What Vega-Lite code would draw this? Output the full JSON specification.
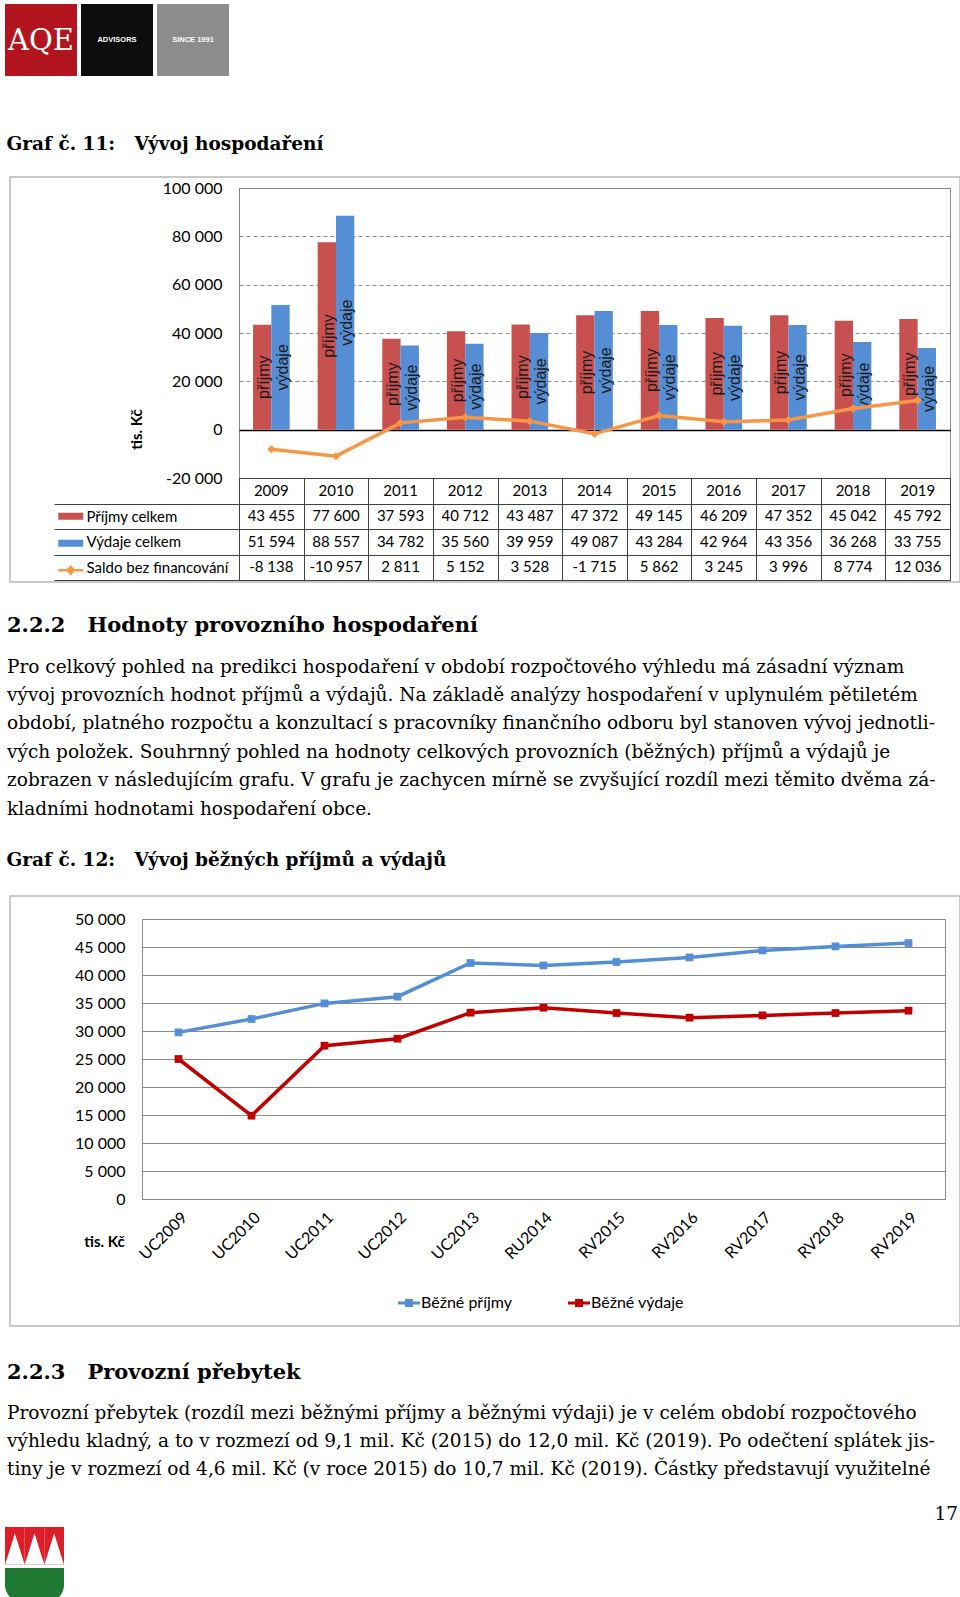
{
  "$schema": "https://vega.github.io/schema/vega-lite/v6.json",
  "background": "white",
  "padding": {"left": 4, "top": 4, "right": 0, "bottom": 0},
  "config": {
    "locale": {"number": {"decimal": ",", "thousands": " ", "grouping": [3], "currency": ["", " Kč"], "minus": "-"}},
    "font": "Lato",
    "view": {"stroke": null},
    "axis": {"labelColor": "#000", "titleColor": "#000", "labelFont": "Lato", "titleFont": "Lato"},
    "legend": {"labelColor": "#000", "labelFont": "Lato"},
    "title": {"color": "#000", "subtitleColor": "#000"}
  },
  "datasets": {
    "hosp": [
      {"year": "2009", "series": "Příjmy celkem", "value": 43455},
      {"year": "2009", "series": "Výdaje celkem", "value": 51594},
      {"year": "2009", "series": "Saldo bez financování", "value": -8138},
      {"year": "2010", "series": "Příjmy celkem", "value": 77600},
      {"year": "2010", "series": "Výdaje celkem", "value": 88557},
      {"year": "2010", "series": "Saldo bez financování", "value": -10957},
      {"year": "2011", "series": "Příjmy celkem", "value": 37593},
      {"year": "2011", "series": "Výdaje celkem", "value": 34782},
      {"year": "2011", "series": "Saldo bez financování", "value": 2811},
      {"year": "2012", "series": "Příjmy celkem", "value": 40712},
      {"year": "2012", "series": "Výdaje celkem", "value": 35560},
      {"year": "2012", "series": "Saldo bez financování", "value": 5152},
      {"year": "2013", "series": "Příjmy celkem", "value": 43487},
      {"year": "2013", "series": "Výdaje celkem", "value": 39959},
      {"year": "2013", "series": "Saldo bez financování", "value": 3528},
      {"year": "2014", "series": "Příjmy celkem", "value": 47372},
      {"year": "2014", "series": "Výdaje celkem", "value": 49087},
      {"year": "2014", "series": "Saldo bez financování", "value": -1715},
      {"year": "2015", "series": "Příjmy celkem", "value": 49145},
      {"year": "2015", "series": "Výdaje celkem", "value": 43284},
      {"year": "2015", "series": "Saldo bez financování", "value": 5862},
      {"year": "2016", "series": "Příjmy celkem", "value": 46209},
      {"year": "2016", "series": "Výdaje celkem", "value": 42964},
      {"year": "2016", "series": "Saldo bez financování", "value": 3245},
      {"year": "2017", "series": "Příjmy celkem", "value": 47352},
      {"year": "2017", "series": "Výdaje celkem", "value": 43356},
      {"year": "2017", "series": "Saldo bez financování", "value": 3996},
      {"year": "2018", "series": "Příjmy celkem", "value": 45042},
      {"year": "2018", "series": "Výdaje celkem", "value": 36268},
      {"year": "2018", "series": "Saldo bez financování", "value": 8774},
      {"year": "2019", "series": "Příjmy celkem", "value": 45792},
      {"year": "2019", "series": "Výdaje celkem", "value": 33755},
      {"year": "2019", "series": "Saldo bez financování", "value": 12036}
    ],
    "bezne": [
      {"obdobi": "UC2009", "rada": "Běžné příjmy", "hodnota": 29750},
      {"obdobi": "UC2010", "rada": "Běžné příjmy", "hodnota": 32140},
      {"obdobi": "UC2011", "rada": "Běžné příjmy", "hodnota": 34930},
      {"obdobi": "UC2012", "rada": "Běžné příjmy", "hodnota": 36130},
      {"obdobi": "UC2013", "rada": "Běžné příjmy", "hodnota": 42140},
      {"obdobi": "RU2014", "rada": "Běžné příjmy", "hodnota": 41710},
      {"obdobi": "RV2015", "rada": "Běžné příjmy", "hodnota": 42320},
      {"obdobi": "RV2016", "rada": "Běžné příjmy", "hodnota": 43140},
      {"obdobi": "RV2017", "rada": "Běžné příjmy", "hodnota": 44390},
      {"obdobi": "RV2018", "rada": "Běžné příjmy", "hodnota": 45110},
      {"obdobi": "RV2019", "rada": "Běžné příjmy", "hodnota": 45710},
      {"obdobi": "UC2009", "rada": "Běžné výdaje", "hodnota": 25000},
      {"obdobi": "UC2010", "rada": "Běžné výdaje", "hodnota": 14880},
      {"obdobi": "UC2011", "rada": "Běžné výdaje", "hodnota": 27380},
      {"obdobi": "UC2012", "rada": "Běžné výdaje", "hodnota": 28630},
      {"obdobi": "UC2013", "rada": "Běžné výdaje", "hodnota": 33270},
      {"obdobi": "RU2014", "rada": "Běžné výdaje", "hodnota": 34160},
      {"obdobi": "RV2015", "rada": "Běžné výdaje", "hodnota": 33210},
      {"obdobi": "RV2016", "rada": "Běžné výdaje", "hodnota": 32380},
      {"obdobi": "RV2017", "rada": "Běžné výdaje", "hodnota": 32790},
      {"obdobi": "RV2018", "rada": "Běžné výdaje", "hodnota": 33210},
      {"obdobi": "RV2019", "rada": "Běžné výdaje", "hodnota": 33630}
    ]
  },
  "columns": 1,
  "spacing": 59,
  "resolve": {"scale": {"color": "independent", "shape": "independent", "size": "independent", "stroke": "independent"}},
  "concat": [
    {
      "width": 224,
      "height": 72,
      "data": {"values": [{"brand": "AQE"}, {"brand": "ADVISORS"}, {"brand": "SINCE 1991"}]},
      "encoding": {"x": {"field": "brand", "type": "nominal", "sort": null, "axis": null, "scale": {"paddingInner": 0.053, "paddingOuter": 0}}},
      "layer": [
        {"mark": {"type": "bar"}, "encoding": {"color": {"field": "brand", "type": "nominal", "scale": {"domain": ["AQE", "ADVISORS", "SINCE 1991"], "range": ["#B3151E", "#0D0D0D", "#8B8C8E"]}, "legend": null}}},
        {"transform": [{"filter": "datum.brand === 'AQE'"}], "mark": {"type": "text", "font": "DejaVu Serif", "fontSize": 29, "color": "white", "dy": 1}, "encoding": {"text": {"field": "brand"}}},
        {"transform": [{"filter": "datum.brand !== 'AQE'"}], "mark": {"type": "text", "font": "Liberation Sans", "fontSize": 7.5, "fontWeight": "bold", "color": "white"}, "encoding": {"text": {"field": "brand"}}}
      ]
    },
    {
      "columns": 1,
      "spacing": 31,
      "resolve": {"scale": {"color": "independent", "shape": "independent", "size": "independent", "stroke": "independent"}},
      "concat": [
        {
          "spacing": 0,
          "resolve": {"scale": {"color": "independent", "shape": "independent", "size": "independent", "stroke": "independent"}},
          "hconcat": [
            {"width": 1, "height": 1, "data": {"values": []}, "mark": {"type": "point"}},
            {
              "title": {"text": "Graf č. 11:\u00a0\u00a0\u00a0Vývoj hospodaření", "anchor": "start", "font": "DejaVu Serif", "fontSize": 18.5, "fontWeight": "bold", "offset": 23},
              "spacing": 0,
              "bounds": "flush",
              "resolve": {"scale": {"color": "independent", "shape": "independent", "size": "independent", "stroke": "independent"}},
              "vconcat": [
                {
                  "width": 711,
                  "height": 290,
                  "view": {"stroke": "#898989"},
                  "data": {"name": "hosp"},
                  "encoding": {"x": {"field": "year", "type": "nominal", "axis": null, "scale": {"paddingInner": 0.433, "paddingOuter": 0.217}}},
                  "resolve": {"scale": {"y": "independent", "color": "independent"}},
                  "layer": [
                    {
                      "transform": [{"filter": "datum.series !== 'Saldo bez financování'"}],
                      "mark": {"type": "bar"},
                      "encoding": {
                        "xOffset": {"field": "series", "type": "nominal", "scale": {"domain": ["Příjmy celkem", "Výdaje celkem"], "paddingInner": 0, "paddingOuter": 0}},
                        "y": {
                          "field": "value", "type": "quantitative",
                          "scale": {"domain": [-20000, 100000], "nice": false, "zero": false},
                          "axis": {
                            "values": [-20000, 0, 20000, 40000, 60000, 80000, 100000],
                            "format": ",d",
                            "labelFontSize": 16,
                            "labelPadding": 17,
                            "ticks": false,
                            "domain": false,
                            "grid": true,
                            "gridColor": {"condition": {"test": "datum.value === 0", "value": "#000000"}, "value": "#8a8a8a"},
                            "gridDash": {"condition": {"test": "datum.value === 0", "value": []}, "value": [4, 3]},
                            "gridWidth": {"condition": {"test": "datum.value === 0", "value": 1.5}, "value": 1},
                            "title": "tis. Kč",
                            "titleFontSize": 15,
                            "titleFontWeight": "bold",
                            "titleAngle": 270,
                            "titleX": -103,
                            "titleY": 241,
                            "titleAlign": "center",
                            "titleBaseline": "middle"
                          }
                        },
                        "color": {"field": "series", "type": "nominal", "scale": {"domain": ["Příjmy celkem", "Výdaje celkem"], "range": ["#C8504E", "#558ED5"]}, "legend": null}
                      }
                    },
                    {
                      "transform": [{"filter": "datum.series !== 'Saldo bez financování'"}],
                      "mark": {"type": "text", "angle": 270, "font": "Liberation Sans", "fontSize": 16, "color": "#1a1a1a", "align": "center", "baseline": "middle", "dy": 2},
                      "encoding": {
                        "xOffset": {"field": "series", "type": "nominal", "scale": {"domain": ["Příjmy celkem", "Výdaje celkem"], "paddingInner": 0, "paddingOuter": 0}},
                        "y": {"field": "value", "type": "quantitative", "scale": {"domain": [-40000, 200000], "nice": false, "zero": false}, "axis": null},
                        "text": {"condition": {"test": "datum.series === 'Příjmy celkem'", "value": "příjmy"}, "value": "výdaje"}
                      }
                    },
                    {
                      "transform": [{"filter": "datum.series === 'Saldo bez financování'"}],
                      "mark": {"type": "line", "color": "#F79646", "strokeWidth": 3.5, "point": {"shape": "diamond", "size": 70, "filled": true, "color": "#F79646"}},
                      "encoding": {"y": {"field": "value", "type": "quantitative", "scale": {"domain": [-20000, 100000], "nice": false, "zero": false}, "axis": null}}
                    },
                    {
                      "transform": [{"filter": "false"}],
                      "mark": {"type": "point"},
                      "encoding": {
                        "color": {"field": "value", "type": "quantitative", "scale": {"domain": [0, 1], "range": ["rgba(255,255,255,0)", "rgba(255,255,255,0)"]},
                          "legend": {"orient": "none", "direction": "horizontal", "legendX": -229, "legendY": -11, "gradientLength": 950, "gradientThickness": 405, "gradientStrokeColor": "#9a9a9a", "gradientStrokeWidth": 1.5, "title": null, "labelExpr": "''", "labelFontSize": 1, "labelOffset": 0, "padding": 0}}
                      }
                    }
                  ]
                },
                {
                  "width": 711,
                  "height": 102,
                  "view": {"stroke": "#404040"},
                  "data": {"name": "hosp"},
                  "title": {
                    "text": "2.2.2\u00a0\u00a0\u00a0Hodnoty provozního hospodaření",
                    "subtitle": [
                      "Pro celkový pohled na predikci hospodaření v období rozpočtového výhledu má zásadní význam",
                      "vývoj provozních hodnot příjmů a výdajů. Na základě analýzy hospodaření v uplynulém pětiletém",
                      "období, platného rozpočtu a konzultací s pracovníky finančního odboru byl stanoven vývoj jednotli-",
                      "vých položek. Souhrnný pohled na hodnoty celkových provozních (běžných) příjmů a výdajů je",
                      "zobrazen v následujícím grafu. V grafu je zachycen mírně se zvyšující rozdíl mezi těmito dvěma zá-",
                      "kladními hodnotami hospodaření obce."
                    ],
                    "orient": "bottom", "anchor": "start", "frame": "group", "dx": -232, "offset": 30,
                    "font": "DejaVu Serif", "fontSize": 21, "fontWeight": "bold",
                    "subtitleFont": "DejaVu Serif", "subtitleFontSize": 18.5, "subtitleLineHeight": 28.4, "subtitlePadding": 22
                  },
                  "encoding": {
                    "x": {"field": "year", "type": "nominal", "scale": {"paddingInner": 0, "paddingOuter": 0}, "axis": {"orient": "top", "labels": false, "ticks": false, "domain": false, "grid": true, "gridColor": "#404040", "tickBand": "extent", "title": null}}
                  },
                  "layer": [
                    {
                      "mark": {"type": "text", "font": "Lato", "fontSize": 15, "color": "#000"},
                      "encoding": {
                        "y": {
                          "field": "series", "type": "nominal",
                          "scale": {"domain": ["Rok", "Příjmy celkem", "Výdaje celkem", "Saldo bez financování"], "paddingInner": 0, "paddingOuter": 0},
                          "axis": {"title": null, "domain": false, "ticks": true, "tickSize": 185, "tickBand": "extent",
                            "tickColor": {"condition": {"test": "datum.extra", "value": "transparent"}, "value": "#404040"},
                            "grid": true, "gridColor": "#404040", "labelAlign": "left", "labelBaseline": "middle", "labelPadding": -32, "labelFontSize": 15, "labelExpr": "datum.value === 'Rok' ? '' : datum.label"}
                        },
                        "text": {"field": "value", "type": "quantitative", "format": ",d"}
                      }
                    },
                    {
                      "transform": [{"filter": "datum.series === 'Příjmy celkem'"}],
                      "mark": {"type": "text", "font": "Lato", "fontSize": 15, "color": "#000"},
                      "encoding": {"y": {"datum": "Rok", "type": "nominal"}, "text": {"field": "year"}}
                    },
                    {
                      "transform": [{"filter": "false"}],
                      "mark": {"type": "point", "filled": true},
                      "encoding": {
                        "color": {"field": "series", "type": "nominal", "scale": {"domain": ["Příjmy celkem", "Výdaje celkem", "Saldo bez financování"], "range": ["#C8504E", "#558ED5", "#F79646"]},
                          "legend": {"orient": "none", "legendX": -181, "legendY": 25.5, "direction": "vertical", "title": null, "labelExpr": "' '", "labelFontSize": 25.5, "symbolSize": 625, "rowPadding": 0, "padding": 0, "symbolStrokeWidth": 0, "symbolOpacity": 1}},
                        "shape": {"field": "series", "type": "nominal", "scale": {"domain": ["Příjmy celkem", "Výdaje celkem", "Saldo bez financování"], "range": ["M-1,-0.28L1,-0.28L1,0.28L-1,0.28Z", "M-1,-0.28L1,-0.28L1,0.28L-1,0.28Z", "M-1,-0.1L1,-0.1L1,0.1L-1,0.1Z M0,-0.42L0.36,0L0,0.42L-0.36,0Z"]},
                          "legend": {"orient": "none", "legendX": -181, "legendY": 25.5, "direction": "vertical", "title": null, "labelExpr": "' '", "labelFontSize": 25.5, "symbolSize": 625, "rowPadding": 0, "padding": 0, "symbolStrokeWidth": 0, "symbolOpacity": 1}}
                      }
                    }
                  ]
                }
              ]
            }
          ]
        },
        {
          "columns": 1,
          "spacing": 24,
          "resolve": {"scale": {"color": "independent", "shape": "independent", "size": "independent", "stroke": "independent"}},
          "concat": [
            {
              "spacing": 0,
              "resolve": {"scale": {"color": "independent", "shape": "independent", "size": "independent", "stroke": "independent"}},
              "hconcat": [
                {"width": 1, "height": 1, "data": {"values": []}, "mark": {"type": "point"}},
                {
                  "title": {"text": "Graf č. 12:\u00a0\u00a0\u00a0Vývoj běžných příjmů a výdajů", "anchor": "start", "font": "DejaVu Serif", "fontSize": 18.5, "fontWeight": "bold", "offset": 26.5},
                  "resolve": {"scale": {"color": "independent", "shape": "independent", "size": "independent", "stroke": "independent"}},
                  "vconcat": [
                    {
                      "width": 803,
                      "height": 280,
                      "view": {"stroke": "#898989"},
                      "data": {"name": "bezne"},
                      "title": {
                        "text": "2.2.3\u00a0\u00a0\u00a0Provozní přebytek",
                        "subtitle": [
                          "Provozní přebytek (rozdíl mezi běžnými příjmy a běžnými výdaji) je v celém období rozpočtového",
                          "výhledu kladný, a to v rozmezí od 9,1 mil. Kč (2015) do 12,0 mil. Kč (2019). Po odečtení splátek jis-",
                          "tiny je v rozmezí od 4,6 mil. Kč (v roce 2015) do 10,7 mil. Kč (2019). Částky představují využitelné"
                        ],
                        "orient": "bottom", "anchor": "start", "frame": "group", "dx": -135, "offset": 35,
                        "font": "DejaVu Serif", "fontSize": 21, "fontWeight": "bold",
                        "subtitleFont": "DejaVu Serif", "subtitleFontSize": 18.5, "subtitleLineHeight": 28.4, "subtitlePadding": 20.5
                      },
                      "resolve": {"scale": {"color": "independent"}},
                      "layer": [
                        {
                          "mark": {"type": "line", "strokeWidth": 3.5, "point": {"shape": "square", "size": 60, "filled": true}},
                          "encoding": {
                            "x": {"field": "obdobi", "type": "nominal", "sort": null, "axis": {"title": null, "labelAngle": -45, "labelFontSize": 16, "ticks": false, "domain": false, "labelPadding": 10}},
                            "y": {
                              "field": "hodnota", "type": "quantitative",
                              "scale": {"domain": [0, 50000], "nice": false},
                              "axis": {"values": [0, 5000, 10000, 15000, 20000, 25000, 30000, 35000, 40000, 45000, 50000], "format": ",d", "grid": true, "gridColor": "#8a8a8a", "ticks": false, "domain": false, "labelPadding": 17, "labelFontSize": 16,
                                "title": "tis. Kč", "titleAngle": 0, "titleX": -38, "titleY": 322, "titleAlign": "center", "titleBaseline": "middle", "titleFontWeight": "bold", "titleFontSize": 15}
                            },
                            "color": {
                              "field": "rada", "type": "nominal",
                              "scale": {"domain": ["Běžné příjmy", "Běžné výdaje"], "range": ["#558ED5", "#C00000"]},
                              "legend": {"orient": "none", "direction": "horizontal", "legendX": 256, "legendY": 373, "title": null, "labelFontSize": 16, "symbolType": "M-1,-0.14L1,-0.14L1,0.14L-1,0.14Z M-0.36,-0.36L0.36,-0.36L0.36,0.36L-0.36,0.36Z", "symbolSize": 484, "columnPadding": 55, "labelOffset": 1, "symbolStrokeWidth": 0, "padding": 0}
                            }
                          }
                        },
                        {
                          "transform": [{"filter": "false"}],
                          "mark": {"type": "point"},
                          "encoding": {
                            "color": {"field": "hodnota", "type": "quantitative", "scale": {"domain": [0, 1], "range": ["rgba(255,255,255,0)", "rgba(255,255,255,0)"]},
                              "legend": {"orient": "none", "direction": "horizontal", "legendX": -132, "legendY": -23, "gradientLength": 950, "gradientThickness": 430, "gradientStrokeColor": "#9a9a9a", "gradientStrokeWidth": 1.5, "title": null, "labelExpr": "''", "labelFontSize": 1, "labelOffset": 0, "padding": 0}}
                          }
                        }
                      ]
                    }
                  ]
                }
              ]
            },
            {
              "spacing": 0,
              "resolve": {"scale": {"color": "independent", "shape": "independent", "size": "independent", "stroke": "independent"}},
              "hconcat": [
                {
                  "spacing": 3,
                  "vconcat": [
                    {
                      "width": 59,
                      "height": 38,
                      "data": {"values": [{"hrot": "1"}, {"hrot": "2"}, {"hrot": "3"}]},
                      "encoding": {"x": {"field": "hrot", "type": "nominal", "axis": null, "scale": {"paddingInner": 0, "paddingOuter": 0}}},
                      "layer": [
                        {"mark": {"type": "bar", "color": "#DC1E28"}},
                        {"mark": {"type": "point", "shape": "M-1,1.9L0,-1.3L1,1.9Z", "filled": true, "color": "white", "opacity": 1, "size": 387, "strokeWidth": 0}}
                      ]
                    },
                    {
                      "width": 59,
                      "height": 34,
                      "data": {"values": [{"pole": "zelené"}]},
                      "mark": {"type": "bar", "color": "#1E7832", "cornerRadiusBottomLeft": 28, "cornerRadiusBottomRight": 28},
                      "encoding": {"x": {"field": "pole", "type": "nominal", "axis": null, "scale": {"paddingInner": 0, "paddingOuter": 0}}}
                    }
                  ]
                },
                {
                  "width": 893,
                  "height": 1,
                  "data": {"values": []},
                  "mark": {"type": "point"},
                  "title": {"text": "17", "anchor": "end", "font": "DejaVu Serif", "fontSize": 18.5, "fontWeight": "normal", "offset": 4}
                }
              ]
            }
          ]
        }
      ]
    }
  ]
}
